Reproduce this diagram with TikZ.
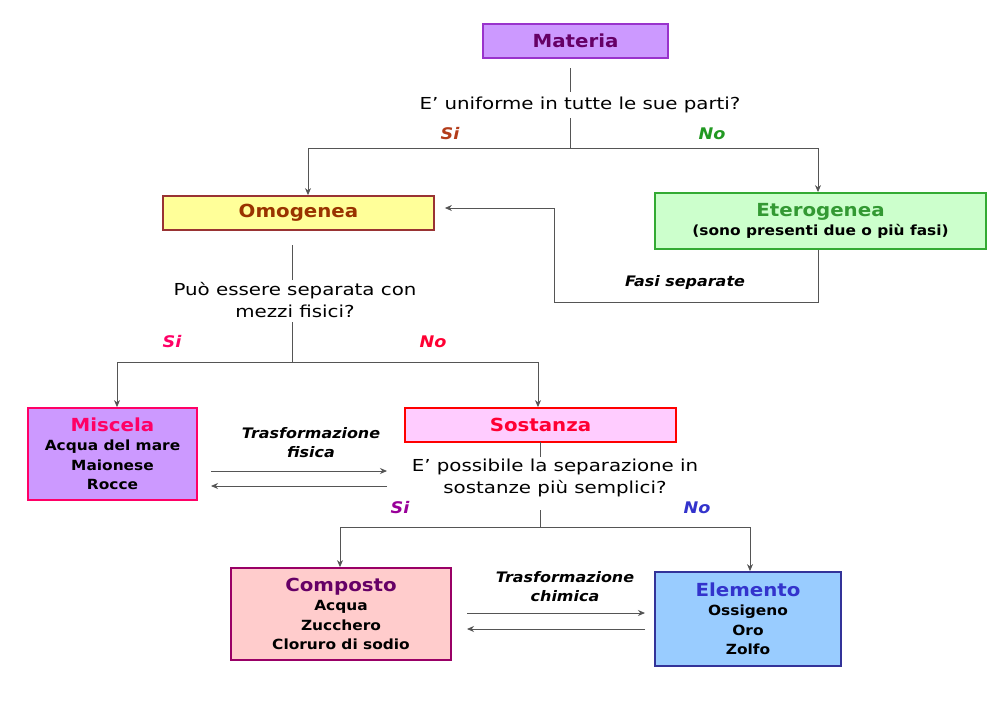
\documentclass[tikz,border=0pt]{standalone}
\usepackage{fontspec}
\setmainfont{DejaVu Sans}[FakeStretch=1.1]
\newfontfamily\qfont{DejaVu Sans}[FakeStretch=1.2]
\usetikzlibrary{arrows.meta,calc}
\definecolor{lineC}{HTML}{555555}
\definecolor{matF}{HTML}{CC99FF}\definecolor{matD}{HTML}{9933CC}\definecolor{matT}{HTML}{660066}
\definecolor{omoF}{HTML}{FFFF99}\definecolor{omoD}{HTML}{993333}\definecolor{omoT}{HTML}{993300}
\definecolor{etF}{HTML}{CCFFCC}\definecolor{etD}{HTML}{33AA33}\definecolor{etT}{HTML}{339933}
\definecolor{misF}{HTML}{CC99FF}\definecolor{misD}{HTML}{FF0066}\definecolor{misT}{HTML}{FF0066}
\definecolor{sosF}{HTML}{FFCCFF}\definecolor{sosD}{HTML}{FF0000}\definecolor{sosT}{HTML}{FF0033}
\definecolor{comF}{HTML}{FFCCCC}\definecolor{comD}{HTML}{990066}\definecolor{comT}{HTML}{660066}
\definecolor{eleF}{HTML}{99CCFF}\definecolor{eleD}{HTML}{333399}\definecolor{eleT}{HTML}{3333CC}
\definecolor{siA}{HTML}{B33C1A}\definecolor{noA}{HTML}{229922}
\definecolor{siB}{HTML}{FF0066}\definecolor{noB}{HTML}{FF0033}
\definecolor{siC}{HTML}{990099}\definecolor{noC}{HTML}{3333CC}
\newcommand{\ttlfont}{\fontsize{18}{20}\selectfont\bfseries}
\tikzset{
  box/.style={draw, line width=1.8pt, inner sep=0pt, align=center, font=\fontsize{14}{19.5}\selectfont\bfseries},
  qtext/.style={font=\qfont\fontsize{16.5}{22}\selectfont, align=center, inner sep=0pt},
  ans/.style={font=\fontsize{16}{18}\selectfont\bfseries\itshape, inner sep=0pt},
  trans/.style={font=\fontsize{14.5}{19}\selectfont\bfseries\itshape, align=center, inner sep=0pt},
  conn/.style={draw=lineC, line width=0.9pt},
  arr/.style={conn, -{Stealth[length=7pt,width=6pt]}}
}
\begin{document}
\begin{tikzpicture}[x=1pt,y=-1pt]
\useasboundingbox[fill=white] (0,0) rectangle (994,720);
% boxes
\node[box, draw=matD, fill=matF, minimum width=185pt, minimum height=34pt] (materia) at (575.5,41) {\textcolor{matT}{\ttlfont Materia}};
\node[box, draw=omoD, fill=omoF, minimum width=271pt, minimum height=34pt] (omog) at (298.5,213) {\textcolor{omoT}{\ttlfont Omogenea}};
\node[box, draw=etD, fill=etF, minimum width=331pt, minimum height=56pt] (eterog) at (820.5,221) {\textcolor{etT}{\ttlfont Eterogenea}\\ (sono presenti due o più fasi)};
\node[box, draw=misD, fill=misF, minimum width=169pt, minimum height=92pt] (miscela) at (112.5,454) {\textcolor{misT}{\ttlfont Miscela}\\ Acqua del mare\\ Maionese\\ Rocce};
\node[box, draw=sosD, fill=sosF, minimum width=271pt, minimum height=34pt] (sostanza) at (540.5,425) {\textcolor{sosT}{\ttlfont Sostanza}};
\node[box, draw=comD, fill=comF, minimum width=220pt, minimum height=92pt] (composto) at (341,614) {\textcolor{comT}{\ttlfont Composto}\\ Acqua\\ Zucchero\\ Cloruro di sodio};
\node[box, draw=eleD, fill=eleF, minimum width=186pt, minimum height=94pt] (elemento) at (748,619) {\textcolor{eleT}{\ttlfont Elemento}\\ Ossigeno\\ Oro\\ Zolfo};
% questions
\node[qtext] (q1) at (580,105) {E’ uniforme in tutte le sue parti?};
\node[qtext] (q2) at (295,300) {Può essere separata con\\ mezzi fisici?};
\node[qtext] (q3) at (555,478) {E’ possibile la separazione in\\ sostanze più semplici?};
% answers
\node[ans, text=siA] (si1) at (450,134) {Si};
\node[ans, text=noA] (no1) at (712,134) {No};
\node[ans, text=siB] (si2) at (172,342) {Si};
\node[ans, text=noB] (no2) at (433,342) {No};
\node[ans, text=siC] (si3) at (400,508) {Si};
\node[ans, text=noC] (no3) at (697,508) {No};
% transformation labels
\node[trans] (tf) at (311,443) {Trasformazione\\ fisica};
\node[trans] (tc) at (565,587) {Trasformazione\\ chimica};
\node[trans] (fs) at (685,282) {Fasi separate};
% coordinates
\coordinate (a1) at (570,68); \coordinate (a2) at (570,92);
\coordinate (a3) at (570,118); \coordinate (j1) at (570,148);
\coordinate (oL) at (308,148); \coordinate (eR) at (818,148);
\coordinate (b1) at (292,245); \coordinate (b2) at (292,280);
\coordinate (b3) at (292,322); \coordinate (j2) at (292,362);
\coordinate (mL) at (117,362); \coordinate (sR) at (538,362);
\coordinate (c1) at (540,442); \coordinate (c2) at (540,457);
\coordinate (c3) at (540,510); \coordinate (j3) at (540,527);
\coordinate (cL) at (340,527); \coordinate (eL) at (750,527);
\coordinate (f1) at (818,302); \coordinate (f2) at (554,302); \coordinate (f3) at (554,208);
\coordinate (p1) at (211,471); \coordinate (p2) at (387,471);
\coordinate (p3) at (387,486); \coordinate (p4) at (211,486);
\coordinate (k1) at (467,613); \coordinate (k2) at (645,613);
\coordinate (k3) at (645,629); \coordinate (k4) at (467,629);
% connectors
\draw[conn] (a1) -- (a2);
\draw[conn] (a3) -- (j1);
\draw[arr] (oL) -- (oL |- omog.north);
\draw[arr] (eR) -- (eR |- eterog.north);
\draw[conn] (oL) -- (eR);
\draw[arr] (eterog.south -| f1) -- (f1) -- (f2) -- (f3) -- ([xshift=10pt]omog.east |- f3);
\draw[conn] (b1) -- (b2);
\draw[conn] (b3) -- (j2);
\draw[conn] (mL) -- (sR);
\draw[arr] (mL) -- (mL |- miscela.north);
\draw[arr] (sR) -- (sR |- sostanza.north);
\draw[conn] (c1) -- (c2);
\draw[conn] (c3) -- (j3);
\draw[conn] (cL) -- (eL);
\draw[arr] (cL) -- (cL |- composto.north);
\draw[arr] (eL) -- (eL |- elemento.north);
\draw[arr] (p1) -- (p2);
\draw[arr] (p3) -- (p4);
\draw[arr] (k1) -- (k2);
\draw[arr] (k3) -- (k4);
\end{tikzpicture}
\end{document}
